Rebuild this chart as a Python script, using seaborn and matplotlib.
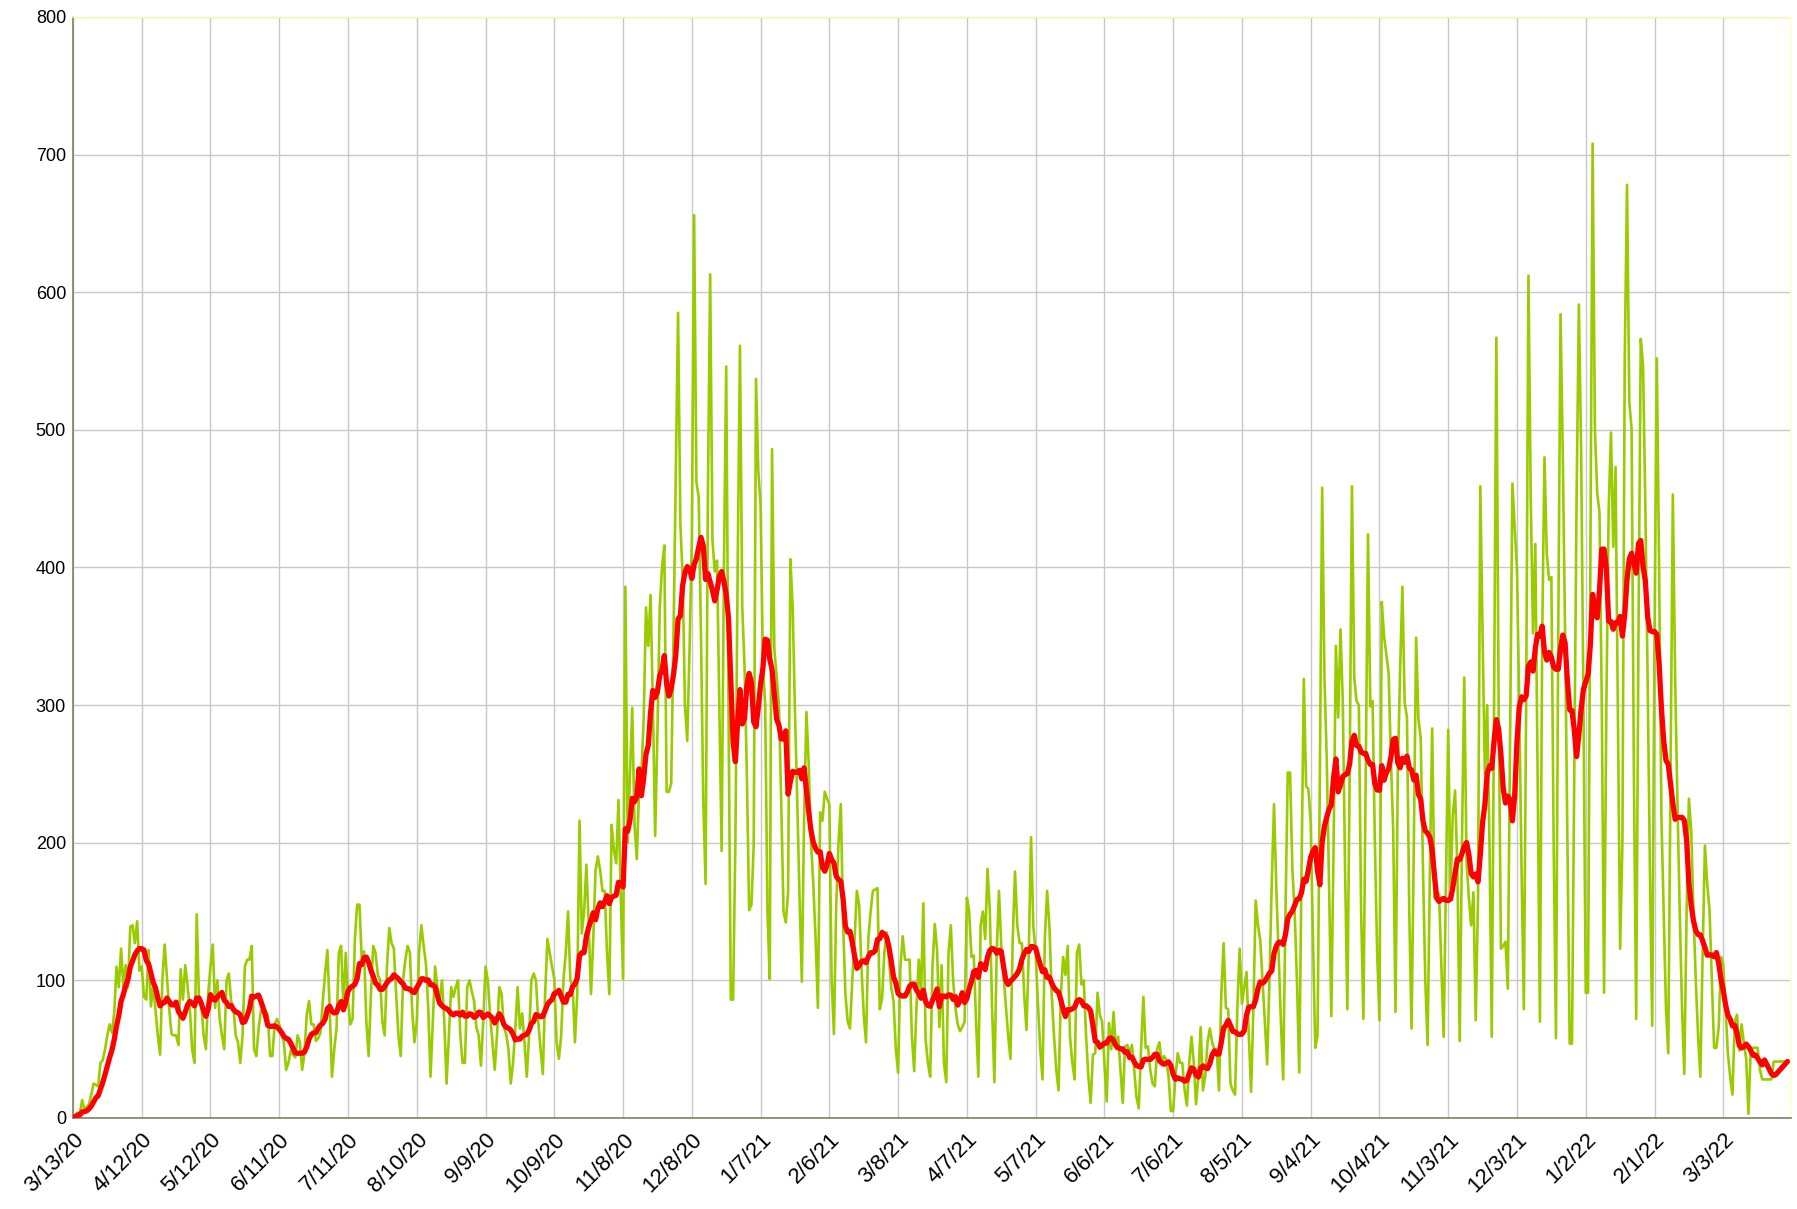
import numpy as np
import pandas as pd
import matplotlib
matplotlib.use("Agg")
import matplotlib.pyplot as plt
import seaborn as sns

# Daily values, starting 3/13/20 (one value per day)
cases_2020_spring = [0, 2, 4, 3, 13, 6, 8, 10, 17, 25, 24, 23, 40, 42, 50, 60, 68, 62, 76, 110,
                     95, 123, 95, 111, 95, 139, 140, 127, 143, 107, 110, 88, 86, 122, 81, 96, 79, 60, 46, 100,
                     126, 103, 79, 61, 60, 60, 53, 108, 86, 111, 96, 79, 50, 40, 148, 86, 83, 60, 50, 90,
                     110, 126, 80, 100]
cases_2020_summer = [72, 60, 50, 100, 105, 85, 80, 60, 55, 40, 60, 110, 115, 115, 125, 50, 45, 65, 78, 80,
                     78, 75, 45, 45, 68, 72, 68, 62, 55, 35, 40, 49, 46, 44, 60, 55, 35, 47, 75, 85,
                     68, 68, 56, 58, 62, 85, 105, 122, 80, 30, 50, 65, 120, 125, 80, 120, 85, 68, 72, 130,
                     155, 155, 115]
cases_2020_late_summer = [121, 70, 45, 90, 125, 120, 104, 100, 70, 60, 110, 138, 127, 123, 90, 60, 45, 100, 115, 125,
                          120, 78, 55, 70, 120, 140, 125, 112, 80, 30, 70, 110, 95, 86, 100, 70, 25, 60, 95, 88,
                          95, 100, 60, 40, 40, 95, 100, 92, 85, 66, 60, 38, 70, 110, 100, 75, 55, 35, 60, 95,
                          90, 66, 61]
cases_2020_fall = [50, 25, 40, 65, 95, 65, 76, 55, 30, 60, 100, 105, 100, 70, 50, 32, 90, 130, 120, 110,
                   101, 55, 43, 60, 100, 120, 150, 100, 96, 55, 90, 216, 134, 150, 184, 140, 90, 130, 180, 190,
                   180, 165, 165, 120, 90, 213, 195, 185, 231, 160, 101,
                   386, 200, 250, 298, 213, 188, 240, 250, 290, 371]
cases_2020_winter = [343, 380, 300, 205, 280, 371, 400, 416, 237, 237, 243, 350, 470, 585, 432, 393, 300, 274, 340, 420,
                     656, 462, 451, 350, 230, 170, 450, 613, 420, 397, 405, 300, 194, 400, 546, 300, 86, 86, 200, 400,
                     561, 371, 328, 250, 151, 155, 198, 537, 470, 445, 330, 300, 150, 101, 486, 341, 320, 300, 230, 150,
                     142, 164, 406, 371]
cases_2021_q1 = [295, 230, 160, 99, 220, 295, 257, 200, 170, 130, 80, 222, 216, 237, 232, 228, 100, 61, 155, 200,
                 228, 141, 90, 70, 65, 100, 130, 165, 155, 110, 75, 55, 130, 150, 165, 166, 167, 79, 87, 120,
                 135, 115, 95, 85, 50, 33, 110, 132, 115, 115, 115, 60, 34, 80, 115, 90, 156, 57, 40, 30,
                 110, 141, 122, 66]
cases_2021_q2 = [111, 40, 26, 120, 140, 100, 80, 68, 63, 66, 70, 160, 150, 117, 118, 70, 30, 140, 150, 130,
                 181, 151, 80, 26, 120, 165, 125, 103, 80, 60, 43, 130, 179, 140, 127, 127, 90, 64, 120, 204,
                 139, 120, 83, 50, 28, 130, 165, 140, 90, 60, 35, 20, 90, 117, 104, 125, 59, 40, 28, 120,
                 126, 97, 100]
cases_2021_summer = [60, 30, 11, 46, 47, 91, 75, 70, 40, 12, 69, 50, 77, 50, 59, 35, 11, 52, 53, 47,
                     53, 35, 15, 7, 50, 88, 51, 52, 35, 25, 23, 50, 55, 40, 45, 42, 30, 5, 5, 30,
                     47, 40, 40, 20, 9, 40, 59, 40, 10, 30, 66, 20, 30, 55, 65, 55, 50, 50, 20, 90,
                     127, 80, 79]
cases_2021_delta = [25, 20, 17, 80, 123, 83, 95, 106, 60, 19, 80, 158, 140, 129, 100, 70, 39, 100, 170, 228,
                    167, 120, 70, 28, 150, 251, 251, 181, 150, 100, 33, 180, 319, 241, 239, 215, 130, 51, 60, 250,
                    458, 320, 261, 170, 74, 200, 343, 291, 355, 303, 180, 79, 250, 459, 320, 303, 300, 150, 72, 250,
                    424, 299]
cases_2021_fall = [303, 200, 120, 71, 375, 350, 337, 323, 260, 209, 77, 250, 325, 386, 302, 291, 150, 65, 200, 349,
                   290, 276, 180, 100, 53, 180, 283, 160, 162, 163, 110, 59, 170, 282, 167, 220, 238, 181, 56, 200,
                   320, 186, 160, 140, 164, 71, 160, 459, 350, 250, 300, 200, 59, 300, 567, 300, 123, 125, 128, 94,
                   280, 461, 429]
cases_2021_winter = [398, 300, 180, 79, 300, 612, 450, 352, 417, 250, 70, 350, 480, 410, 391, 393, 200, 58, 350, 584,
                     480, 350, 200, 54, 54, 250, 450, 591, 482, 300, 91, 91, 400, 708, 500, 454, 440, 300, 91, 300,
                     442, 498, 415, 473, 300, 123, 200, 550, 678, 520, 501, 250, 72, 350, 566, 547, 445, 319, 180, 67,
                     350, 552, 400]
cases_2022 = [220, 150, 80, 47, 250, 453, 319, 230, 150, 80, 32, 150, 232, 209, 150, 100, 60, 30, 120, 198,
              170, 151, 100, 51, 51, 66, 117, 111, 80, 47, 30, 17, 70, 75, 49, 68, 54, 43, 3, 51,
              51, 51, 51, 35, 28, 28, 28, 28, 28, 41, 41, 41, 41, 41, 41, 41]

tick_labels = ["3/13/20", "4/12/20", "5/12/20", "6/11/20", "7/11/20", "8/10/20", "9/9/20", "10/9/20",
               "11/8/20", "12/8/20", "1/7/21", "2/6/21", "3/8/21", "4/7/21", "5/7/21", "6/6/21", "7/6/21",
               "8/5/21", "9/4/21", "10/4/21", "11/3/21", "12/3/21", "1/2/22", "2/1/22", "3/3/22"]
y_ticks = [0, 100, 200, 300, 400, 500, 600, 700, 800]

cases = (cases_2020_spring + cases_2020_summer + cases_2020_late_summer + cases_2020_fall +
         cases_2020_winter + cases_2021_q1 + cases_2021_q2 + cases_2021_summer + cases_2021_delta +
         cases_2021_fall + cases_2021_winter + cases_2022)

df = pd.DataFrame({"day": np.arange(len(cases)), "cases": cases})
df["avg7"] = df["cases"].rolling(7, min_periods=1).mean()

sns.set_style("white")
plt.rcParams["font.family"] = ["Liberation Sans", "DejaVu Sans"]

fig = plt.figure(figsize=(17.97, 12.09), dpi=100)
ax = fig.add_axes([0.0406, 0.0753, 0.9560, 0.9107])

sns.lineplot(data=df, x="day", y="cases", ax=ax, color="#99CC00", linewidth=1.9, zorder=3)
sns.lineplot(data=df, x="day", y="avg7", ax=ax, color="#FF0000", linewidth=3.8, zorder=4)

ax.set_xlim(0, 749.5)
ax.set_ylim(0, 800)
ax.set_xticks(np.arange(len(tick_labels)) * 30)
ax.set_xticklabels(tick_labels, rotation=45, ha="right", va="top", rotation_mode="anchor")
ax.set_yticks(y_ticks)
ax.set_yticklabels([str(v) for v in y_ticks])
ax.tick_params(axis="both", colors="black", width=1, direction="out")
ax.tick_params(axis="x", labelsize=16, pad=3, length=5)
ax.tick_params(axis="y", labelsize=13, pad=2, length=3)
ax.grid(True, color="#C8C8C8", linewidth=1.0, zorder=0)
ax.set_axisbelow(True)
ax.set_xlabel("")
ax.set_ylabel("")
for s in ["left", "bottom"]:
    ax.spines[s].set_color("#808060")
    ax.spines[s].set_linewidth(1.2)
for s in ["top", "right"]:
    ax.spines[s].set_color("#FFFFC8")
    ax.spines[s].set_linewidth(1.2)

fig.savefig("out.png", dpi=100)
